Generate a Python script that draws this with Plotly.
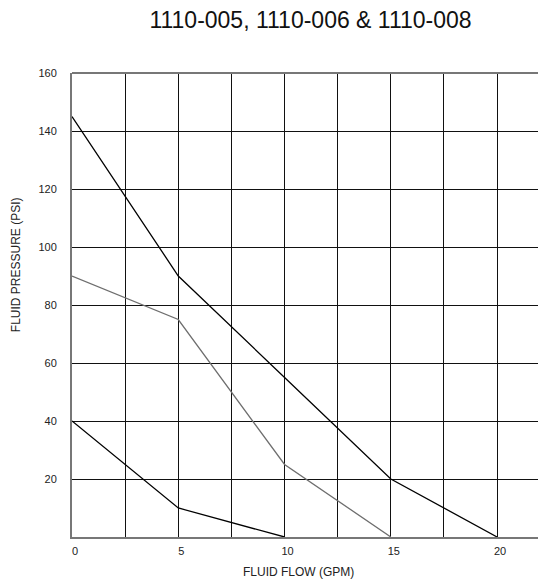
import plotly.graph_objects as go

flow_a = [0, 5, 10, 15, 20]
pressure_a = [145, 90, 55, 20, 0]
flow_b = [0, 5, 10, 15]
pressure_b = [90, 75, 25, 0]
flow_c = [0, 5, 10]
pressure_c = [40, 10, 0]

x_grid = [0, 2.5, 5, 7.5, 10, 12.5, 15, 17.5, 20]
x_labels = ["0", "", "5", "", "10", "", "15", "", "20"]
y_ticks = [20, 40, 60, 80, 100, 120, 140, 160]

fig = go.Figure()
fig.add_trace(go.Scatter(x=flow_a, y=pressure_a, mode="lines",
                         line=dict(color="#000000", width=1.3), showlegend=False))
fig.add_trace(go.Scatter(x=flow_b, y=pressure_b, mode="lines",
                         line=dict(color="#6e6e6e", width=1.3), showlegend=False))
fig.add_trace(go.Scatter(x=flow_c, y=pressure_c, mode="lines",
                         line=dict(color="#000000", width=1.3), showlegend=False))

fam = "Liberation Sans, Arial, sans-serif"
font = dict(family=fam, size=11, color="#222")
title_font = dict(family=fam, size=12, color="#222")

fig.update_layout(
    width=538, height=572,
    margin=dict(l=64, r=0, t=65, b=43),
    paper_bgcolor="white", plot_bgcolor="white",
    title=dict(text="1110-005, 1110-006 &amp; 1110-008", x=0.5623, xanchor="center",
               y=0.979, yanchor="middle",
               font=dict(family=fam, size=23, color="#111")),
    font=font,
    xaxis=dict(range=[0, 22.3], tickvals=x_grid, ticktext=x_labels,
               showgrid=True, gridcolor="#111", gridwidth=1.2,
               showline=True, linecolor="#777", linewidth=2,
               ticks="outside", ticklen=3, tickcolor="rgba(0,0,0,0)",
               ticklabelshift=3,
               zeroline=False),
    yaxis=dict(range=[0, 160], tickvals=y_ticks,
               showgrid=True, gridcolor="#111", gridwidth=1.2,
               showline=True, linecolor="#777", linewidth=2,
               ticks="outside", ticklen=11, tickcolor="rgba(0,0,0,0)",
               zeroline=False),
    shapes=[dict(type="line", xref="paper", yref="paper", x0=0, x1=1, y0=1, y1=1,
                 line=dict(color="#777", width=2))],
    annotations=[
        dict(text="FLUID FLOW (GPM)", xref="paper", yref="paper", x=0.4768, y=-0.0754,
             xanchor="center", yanchor="middle", showarrow=False, font=title_font),
        dict(text="FLUID PRESSURE (PSI)", xref="paper", yref="paper", x=-0.118, y=0.586,
             xanchor="center", yanchor="middle", textangle=-90, showarrow=False,
             font=title_font),
    ],
)

fig.write_html("out.html")
